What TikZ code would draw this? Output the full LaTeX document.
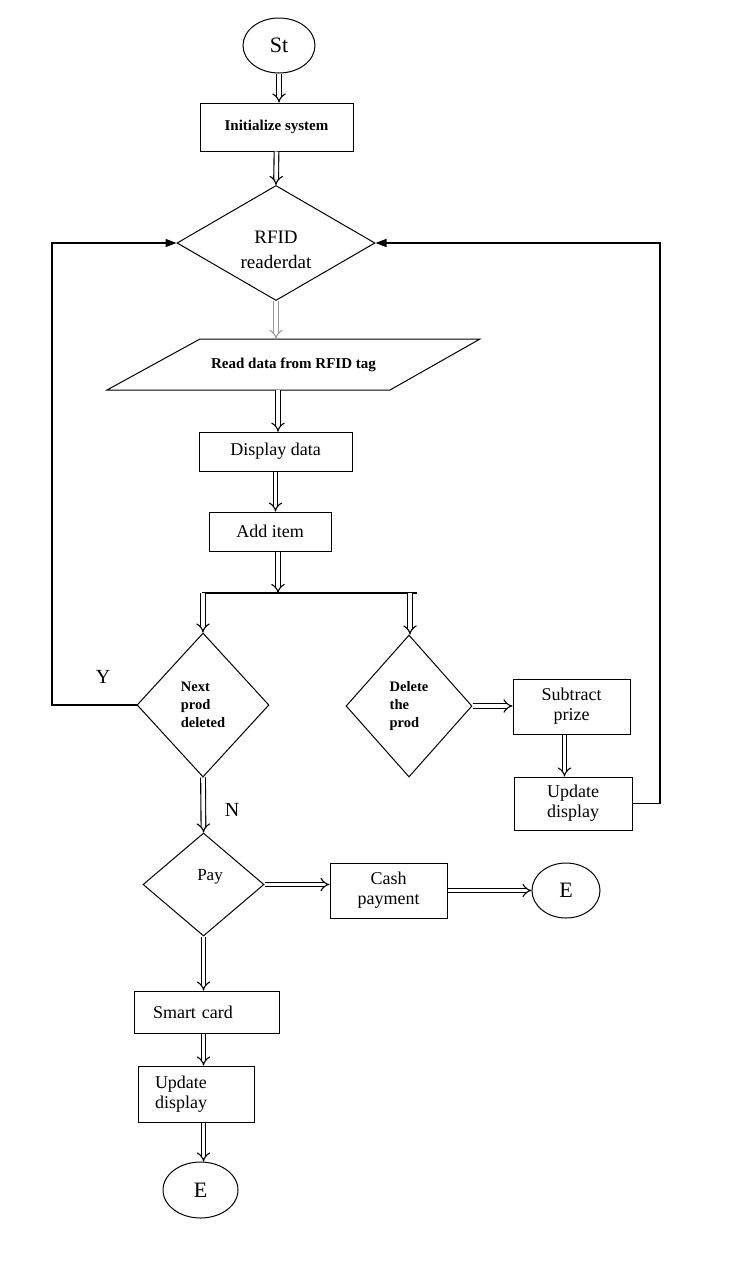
\documentclass[tikz,border=0pt]{standalone}
\usepackage{fontspec}
\setmainfont{Liberation Serif}
\usetikzlibrary{shapes.geometric,arrows.meta}
\begin{document}
\begin{tikzpicture}[x=1pt,y=-1pt,
  every node/.style={inner sep=0pt},
  reg/.style={font=\fontsize{18}{20}\selectfont},
  sml/.style={font=\bfseries\fontsize{14.5}{18}\selectfont},
  big/.style={font=\fontsize{22}{24}\selectfont},
  box/.style={draw, line width=1pt, align=center, reg},
  term/.style={draw, ellipse, line width=1pt, big},
  dia/.style={draw, diamond, line width=1pt, align=center},
  dbl/.style={double, double distance=3.6pt, line width=1.1pt, -{Implies[scale=1.35]}},
  loop/.style={line width=1.3pt},
  looparr/.style={line width=1.3pt, -{Triangle[length=11pt,width=8pt]}}]
\useasboundingbox (0,0) rectangle (731,1280);
\fill[white] (0,0) rectangle (731,1280);

% terminals
\node[term, minimum width=72, minimum height=55] (st) at (279,45.5) {St};
\node[term, minimum width=68, minimum height=55] (e1) at (566,890.5) {E};
\node[term, minimum width=75, minimum height=56] (e2) at (200.5,1190) {E};

% boxes
\node[box, font=\bfseries\fontsize{15}{18}\selectfont, minimum width=153, minimum height=48] (init) at (276.5,127) {Initialize system};
\node[box, minimum width=153, minimum height=39] (disp) at (275.5,451.5) {Display data};
\node[box, minimum width=122, minimum height=39] (add) at (270,531.5) {Add item};
\node[box, minimum width=117, minimum height=55] (sub) at (571.5,706.5) {Subtract\\prize};
\node[box, minimum width=118, minimum height=53] (upd1) at (573,803.5) {Update\\display};
\node[box, minimum width=117, minimum height=55] (cash) at (388.5,890.5) {Cash\\payment};
\node[box, align=left, inner xsep=19pt, text width=107pt, minimum height=42] (smart) at (206.5,1012) {Smart card};
\node[box, align=left, inner xsep=17pt, text width=82pt, minimum height=56] (upd2) at (196,1094) {Update\\display};

% diamonds
\node[dia, minimum width=198, minimum height=115] (rfid) at (276,243) {};
\node[align=center, font=\fontsize{19}{25}\selectfont] (rfidtxt) at (276,250) {RFID\\readerdat};
\node[dia, sml, align=left, minimum width=132, minimum height=144] (next) at (203,705) {Next\\prod\\deleted};
\node[dia, sml, align=left, minimum width=126, minimum height=142] (del) at (409,706) {Delete\\the\\prod};
\node[dia, minimum width=121, minimum height=103] (pay) at (203.5,884.5) {};
\node[font=\fontsize{17}{18}\selectfont] (paytxt) at (210,877) {Pay};

% parallelogram
\node[font=\bfseries\fontsize{15}{18}\selectfont, minimum width=283, minimum height=51] (read) at (293.5,364.5) {Read data from RFID tag};
\draw[line width=1pt] (107,390) -- (200,339) -- (480,339) -- (390,390) -- cycle;

% labels
\node[font=\fontsize{20}{22}\selectfont] (ylab) at (103,677) {Y};
\node[font=\fontsize{20}{22}\selectfont] (nlab) at (232,810) {N};

% branch coordinates
\coordinate (br) at (278,593);
\coordinate (bl) at (202,593);
\coordinate (brr) at (417,593);
\coordinate (lloop) at (52,243);
\coordinate (rloop) at (660,243);

% connectors
\draw[dbl] (st.south) -- (st.south |- init.north);
\draw[dbl] (init.south) -- (rfid.north);
\draw[dbl, draw=gray!80] (rfid.south) -- (rfid.south |- read.north);
\draw[dbl] (disp.north |- read.south) ++(2.5,0) -- ++(0,41.5);
\draw[dbl] (disp.south) -- (disp.south |- add.north);
\draw[dbl] (add.south -| br) -- (br);
\draw[loop] (bl) -- (brr);
\draw[dbl] (next.north |- bl) -- (next.north);
\draw[dbl] ([xshift=1pt]del.north |- brr) -- ([xshift=1pt]del.north);
\draw[dbl] (del.east) -- (sub.west |- del.east);
\draw[dbl] ([xshift=-7pt]sub.south) -- ([xshift=-7pt]sub.south |- upd1.north);
\draw[looparr] (next.west) -| (lloop) -- (rfid.west);
\draw[looparr] (upd1.east) -| (rloop) -- (rfid.east);
\draw[dbl] (next.south) -- (pay.north);
\draw[dbl] (pay.east) -- (cash.west |- pay.east);
\draw[dbl] (cash.east) -- (e1.west);
\draw[dbl] (pay.south) -- (pay.south |- smart.north);
\draw[dbl] (pay.south |- smart.south) -- (pay.south |- upd2.north);
\draw[dbl] (pay.south |- upd2.south) -- (pay.south |- e2.north);
\end{tikzpicture}
\end{document}
